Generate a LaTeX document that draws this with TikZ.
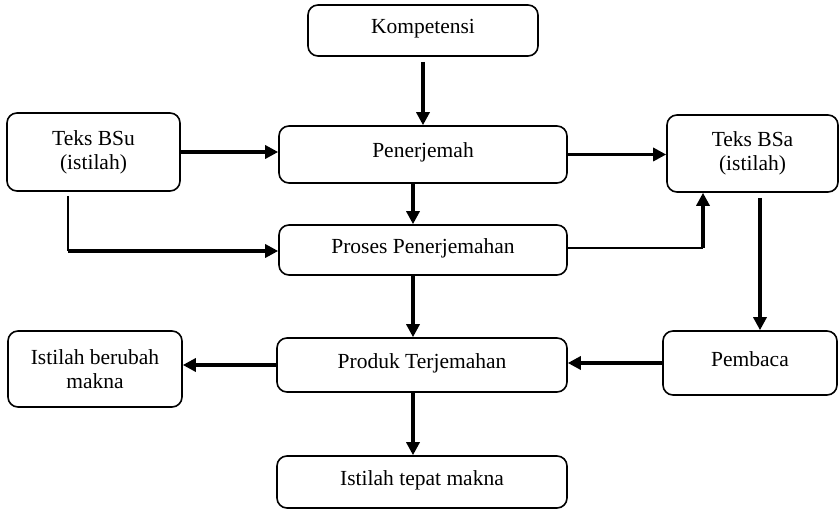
\documentclass[tikz,border=0pt]{standalone}
\usepackage{fontspec}
\setmainfont{Liberation Serif}
\usepackage{tikz}
\usetikzlibrary{positioning,arrows.meta,calc}

\begin{document}
\begin{tikzpicture}[x=1pt, y=-1pt,
  box/.style={draw, line width=1.6pt, rounded corners=10pt, align=center,
    inner sep=0pt, font=\fontsize{21.5}{24}\selectfont},
  oneline/.style={box, text height=15pt, text depth=8pt},
  arr/.style={line width=3.2pt, -{Triangle[length=13pt,width=13pt]}},
  thinline/.style={line width=1.6pt}]
  \useasboundingbox (0,0) rectangle (839,510);

  % Boxes
  \node[oneline, minimum width=230pt, minimum height=51pt] (kompetensi) at (423,30.5) {Kompetensi};
  \node[box, minimum width=173pt, minimum height=78pt] (bsu) at (93.5,152) {Teks BSu\\(istilah)};
  \node[oneline, minimum width=288pt, minimum height=57pt] (penerjemah) at (423,154.5) {Penerjemah};
  \node[box, minimum width=171pt, minimum height=77pt] (bsa) at (752.5,153.5) {Teks BSa\\(istilah)};
  \node[oneline, minimum width=288pt, minimum height=50pt] (proses) at (423,250) {Proses Penerjemahan};
  \node[box, minimum width=174pt, minimum height=76pt] (berubah) at (95,369) {Istilah berubah\\makna};
  \node[oneline, minimum width=290pt, minimum height=54pt] (produk) at (422,365) {Produk Terjemahan};
  \node[oneline, minimum width=174pt, minimum height=64pt] (pembaca) at (750,363) {Pembaca};
  \node[oneline, minimum width=290pt, minimum height=52pt] (tepat) at (422,482) {Istilah tepat makna};

  % Turning points
  \coordinate (bsuturn) at (68,251);
  \coordinate (bsaturn) at (703,248);

  % Vertical arrows
  \draw[arr, shorten <=5pt] (kompetensi.south) -- (penerjemah.north);
  \draw[arr] ([xshift=-10pt]penerjemah.south) -- ([xshift=-10pt]proses.north);
  \draw[arr] ([xshift=-10pt]proses.south) -- ([xshift=-9pt]produk.north);
  \draw[arr] ([xshift=-9pt]produk.south) -- ([xshift=-9pt]tepat.north);
  \draw[arr, shorten <=5pt] ([xshift=7.5pt]bsa.south) -- ([xshift=10pt]pembaca.north);

  % Horizontal arrows
  \draw[arr] (bsu.east) -- (bsu.east -| penerjemah.west);
  \draw[arr] (penerjemah.east) -- (penerjemah.east -| bsa.west);
  \draw[arr] (pembaca.west) -- (pembaca.west -| produk.east);
  \draw[arr] (produk.west) -- (produk.west -| berubah.east);

  % Bent connectors
  \draw[thinline, shorten <=4pt] (bsu.south -| bsuturn) -- (bsuturn);
  \draw[arr] (bsuturn) -- (bsuturn -| proses.west);
  \draw[line width=1.2pt] (proses.east |- bsaturn) -- (bsaturn);
  \draw[arr] (bsaturn) -- (bsaturn |- bsa.south);

\end{tikzpicture}
\end{document}
